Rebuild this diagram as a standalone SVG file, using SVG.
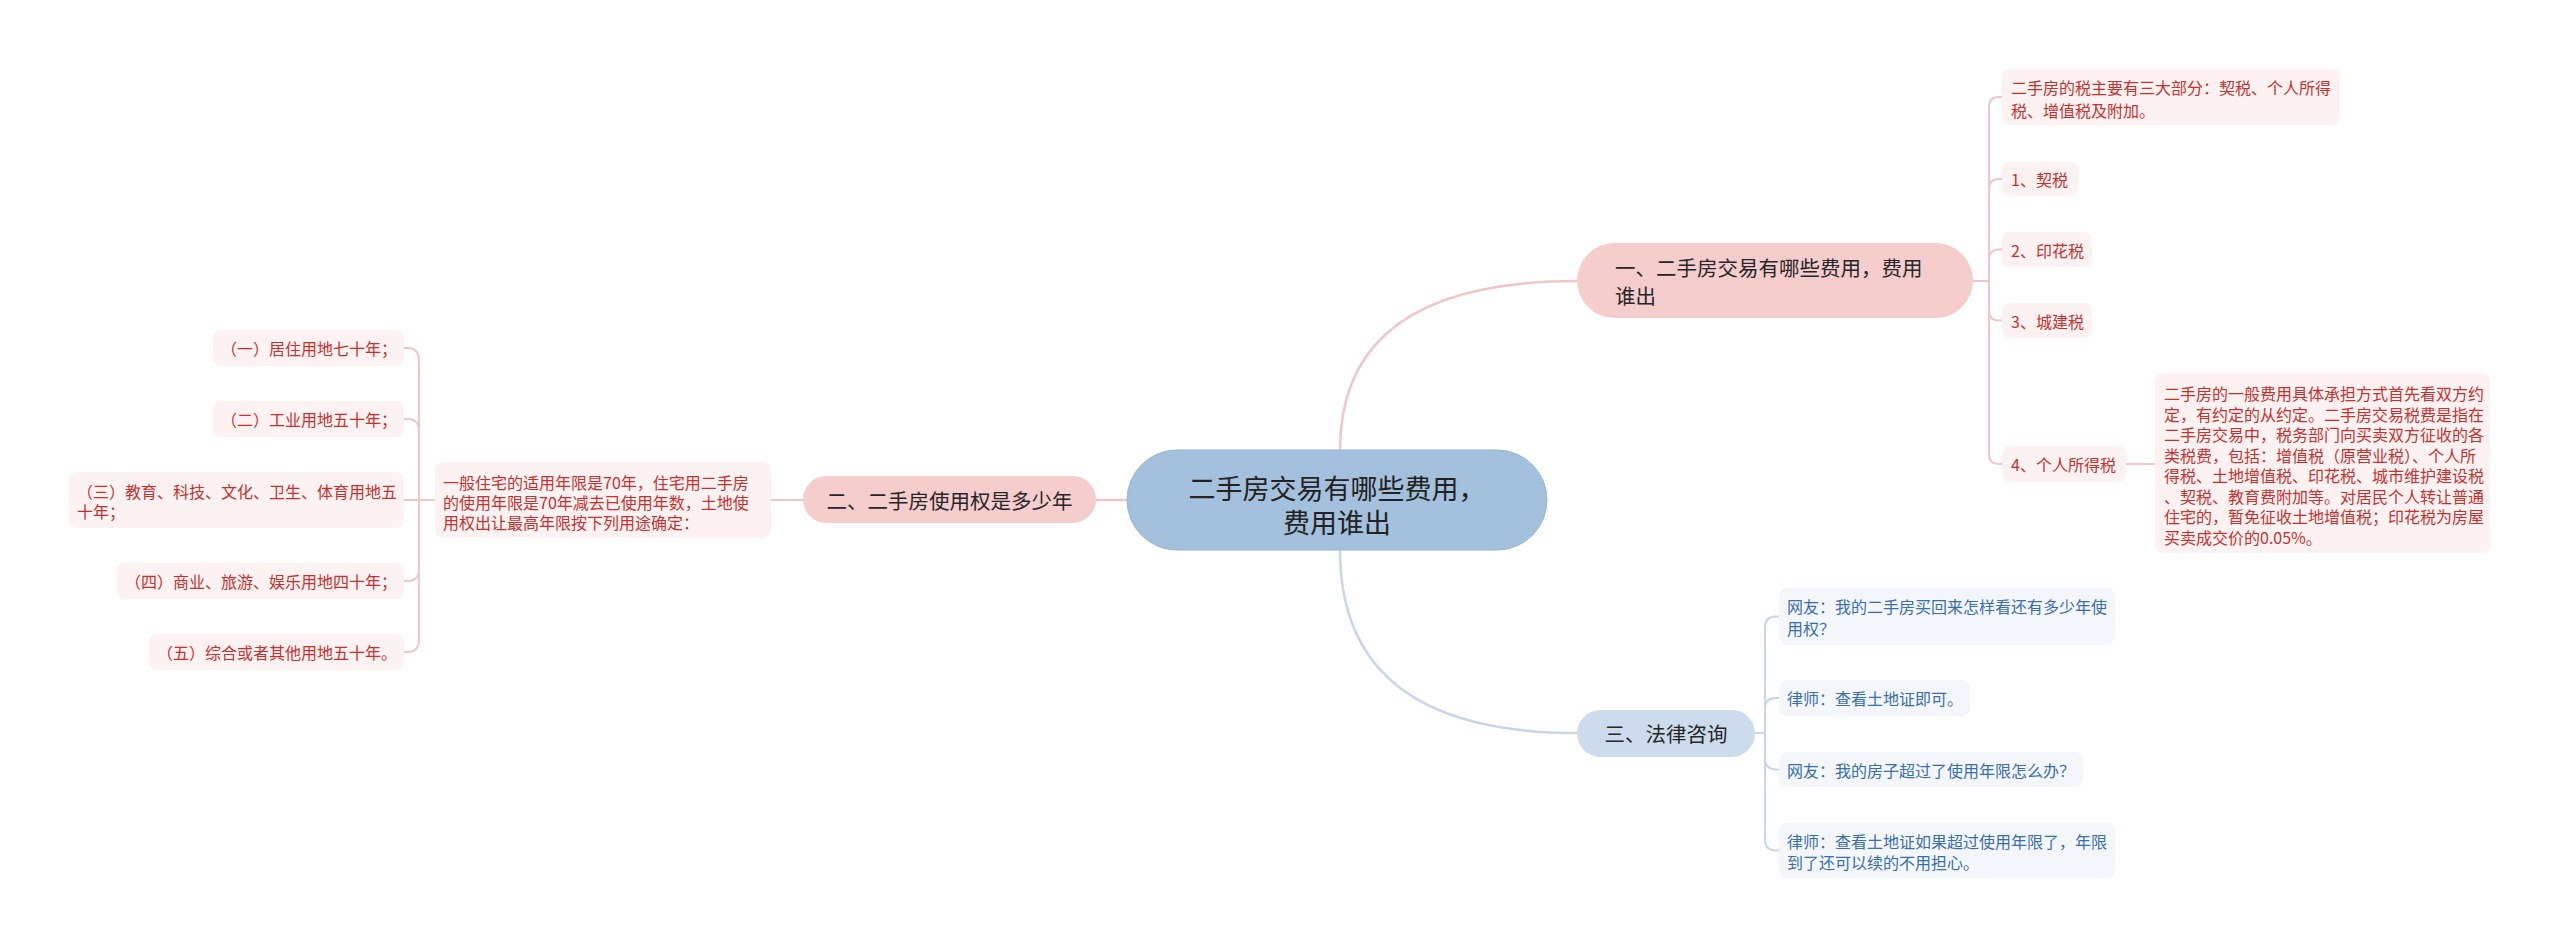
<svg xmlns="http://www.w3.org/2000/svg" width="2560" height="948" viewBox="0 0 2560 948">
<style>
text{font-family:"Noto Sans CJK SC","Noto Sans",sans-serif;dominant-baseline:central}
.main{fill:#a3c0dc;stroke:#98b6d4;stroke-width:1}
.bp{fill:#f6cdcd}
.bb{fill:#cddcec}
.lp{fill:#fdf2f2}
.lb{fill:#f3f7fc}
.tm{font-size:27px;fill:#222;text-anchor:middle}
.tb{font-size:20.5px;fill:#262626}
.tp{font-size:16px;fill:#c8302e}
.tbl{font-size:16px;fill:#3a6dab}
.cp{fill:none;stroke:#f1c6c6;stroke-width:2}
.cb{fill:none;stroke:#c7d7e8;stroke-width:2}
.thick{stroke-width:2.5}
</style>
<rect width="2560" height="948" fill="#ffffff"/>
<g id="connectors">
<path class="cp thick" d="M1340,450 Q1340,281 1577,281"/>
<path class="cb thick" d="M1340,550 Q1340,733 1577,733"/>
<path class="cp thick" d="M1127,500 H1096"/>
<path class="cp" d="M1973,281 H1989"/>
<path class="cp" d="M1989,281 V107 Q1989,97 1999,97 H2002"/>
<path class="cp" d="M1989,281 V189 Q1989,179 1999,179 H2002"/>
<path class="cp" d="M1989,281 V259.5 Q1989,249.5 1999,249.5 H2002"/>
<path class="cp" d="M1989,281 V310.5 Q1989,320.5 1999,320.5 H2002"/>
<path class="cp" d="M1989,281 V454 Q1989,464 1999,464 H2002"/>
<path class="cp" d="M2126,464 H2155"/>
<path class="cb" d="M1755,733 H1765"/>
<path class="cb" d="M1765,733 V627 Q1765,616.5 1776,616.5 H1779"/>
<path class="cb" d="M1765,733 V709 Q1765,698 1776,698 H1779"/>
<path class="cb" d="M1765,733 V758.5 Q1765,769.5 1776,769.5 H1779"/>
<path class="cb" d="M1765,733 V839.5 Q1765,850.5 1776,850.5 H1779"/>
<path class="cp" d="M803,500 H771"/>
<path class="cp" d="M435,500 H419"/>
<path class="cp" d="M419,500 V360 Q419,348 407,348 H404"/>
<path class="cp" d="M419,500 V431 Q419,419 407,419 H404"/>
<path class="cp" d="M419,500 H404"/>
<path class="cp" d="M419,500 V569 Q419,581 407,581 H404"/>
<path class="cp" d="M419,500 V640 Q419,652 407,652 H404"/>
</g>
<g id="root">
<rect class="main" x="1127" y="450" width="420" height="100" rx="50"/>
<text class="tm" x="1337" y="487">二手房交易有哪些费用，</text>
<text class="tm" x="1337" y="521">费用谁出</text>
</g>
<g id="branch1">
<rect class="bp" x="1577" y="243" width="396" height="75" rx="37.5"/>
<text class="tb" x="1615" y="267">一、二手房交易有哪些费用，费用</text>
<text class="tb" x="1615" y="295">谁出</text>
</g>
<g id="branch2">
<rect class="bp" x="803" y="476" width="293" height="47" rx="23.5"/>
<text class="tb" x="949.5" y="500" text-anchor="middle">二、二手房使用权是多少年</text>
</g>
<g id="branch3">
<rect class="bb" x="1577" y="710" width="178" height="47" rx="23.5"/>
<text class="tb" x="1666" y="733" text-anchor="middle">三、法律咨询</text>
</g>
<g id="r1">
<rect class="lp" x="2002" y="69" width="338" height="56" rx="8"/>
<text class="tp" x="2011" y="87">二手房的税主要有三大部分：契税、个人所得</text>
<text class="tp" x="2011" y="110">税、增值税及附加。</text>
</g>
<g id="r2">
<rect class="lp" x="2002" y="162" width="76" height="34" rx="8"/>
<text class="tp" x="2011" y="179">1、契税</text>
</g>
<g id="r3">
<rect class="lp" x="2002" y="232" width="90" height="35" rx="8"/>
<text class="tp" x="2011" y="249.5">2、印花税</text>
</g>
<g id="r4">
<rect class="lp" x="2002" y="303" width="90" height="35" rx="8"/>
<text class="tp" x="2011" y="320.5">3、城建税</text>
</g>
<g id="r5">
<rect class="lp" x="2002" y="446" width="124" height="36" rx="8"/>
<text class="tp" x="2011" y="464">4、个人所得税</text>
</g>
<g id="r5a">
<rect class="lp" x="2155" y="373" width="335" height="180" rx="8"/>
<text class="tp" x="2164" y="393">二手房的一般费用具体承担方式首先看双方约</text>
<text class="tp" x="2164" y="413.5">定，有约定的从约定。二手房交易税费是指在</text>
<text class="tp" x="2164" y="434">二手房交易中，税务部门向买卖双方征收的各</text>
<text class="tp" x="2164" y="454.5">类税费，包括：增值税（原营业税）、个人所</text>
<text class="tp" x="2164" y="475">得税、土地增值税、印花税、城市维护建设税</text>
<text class="tp" x="2164" y="495.5">、契税、教育费附加等。对居民个人转让普通</text>
<text class="tp" x="2164" y="516">住宅的，暂免征收土地增值税；印花税为房屋</text>
<text class="tp" x="2164" y="536.5">买卖成交价的0.05%。</text>
</g>
<g id="b1">
<rect class="lb" x="1779" y="588" width="336" height="57" rx="8"/>
<text class="tbl" x="1787" y="606">网友：我的二手房买回来怎样看还有多少年使</text>
<text class="tbl" x="1787" y="628">用权？</text>
</g>
<g id="b2">
<rect class="lb" x="1779" y="680" width="191" height="36" rx="8"/>
<text class="tbl" x="1787" y="698">律师：查看土地证即可。</text>
</g>
<g id="b3">
<rect class="lb" x="1779" y="752" width="304" height="35" rx="8"/>
<text class="tbl" x="1787" y="769.5">网友：我的房子超过了使用年限怎么办？</text>
</g>
<g id="b4">
<rect class="lb" x="1779" y="823" width="336" height="55" rx="8"/>
<text class="tbl" x="1787" y="841">律师：查看土地证如果超过使用年限了，年限</text>
<text class="tbl" x="1787" y="862">到了还可以续的不用担心。</text>
</g>
<g id="l0">
<rect class="lp" x="435" y="462" width="336" height="76" rx="8"/>
<text class="tp" x="443" y="482">一般住宅的适用年限是70年，住宅用二手房</text>
<text class="tp" x="443" y="502">的使用年限是70年减去已使用年数，土地使</text>
<text class="tp" x="443" y="522">用权出让最高年限按下列用途确定：</text>
</g>
<g id="l1">
<rect class="lp" x="213" y="330" width="191" height="36" rx="8"/>
<text class="tp" x="221" y="348">（一）居住用地七十年；</text>
</g>
<g id="l2">
<rect class="lp" x="213" y="401" width="191" height="36" rx="8"/>
<text class="tp" x="221" y="419">（二）工业用地五十年；</text>
</g>
<g id="l3">
<rect class="lp" x="69" y="472" width="335" height="56" rx="8"/>
<text class="tp" x="77" y="490.5">（三）教育、科技、文化、卫生、体育用地五</text>
<text class="tp" x="77" y="510.5">十年；</text>
</g>
<g id="l4">
<rect class="lp" x="117" y="563" width="287" height="36" rx="8"/>
<text class="tp" x="125" y="581">（四）商业、旅游、娱乐用地四十年；</text>
</g>
<g id="l5">
<rect class="lp" x="149" y="634" width="255" height="36" rx="8"/>
<text class="tp" x="157" y="652">（五）综合或者其他用地五十年。</text>
</g>
</svg>
